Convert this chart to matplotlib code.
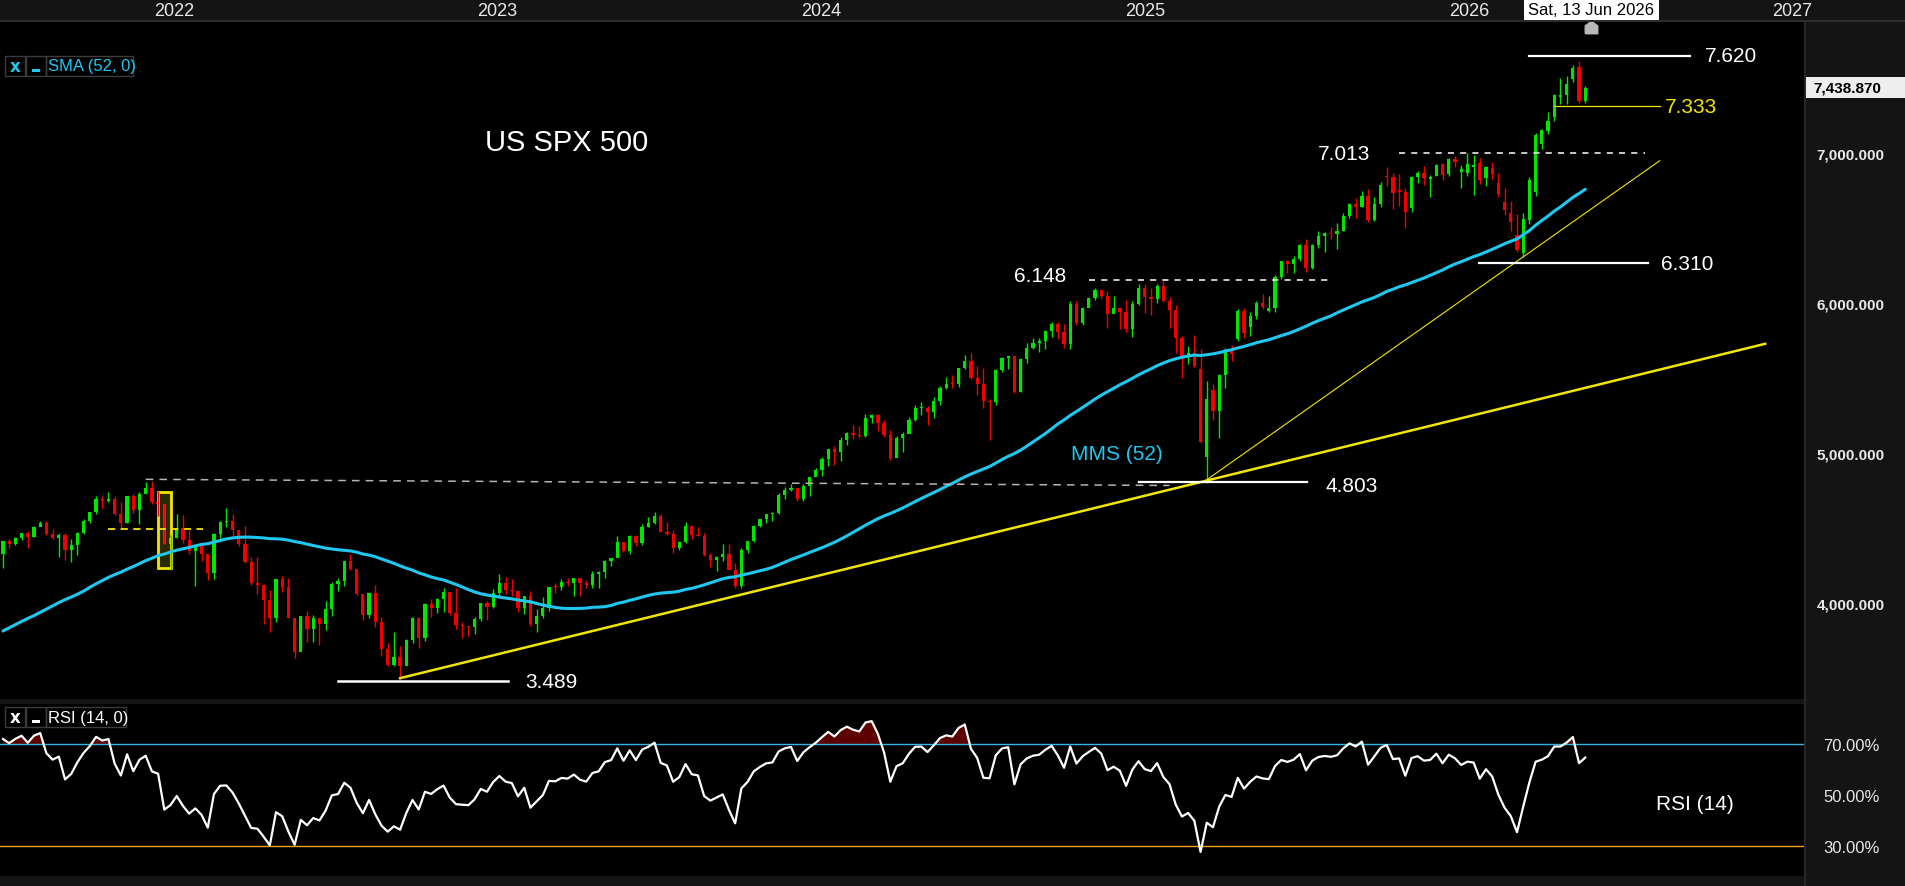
import numpy as np
import pandas as pd
import matplotlib
matplotlib.use("Agg")
import matplotlib.pyplot as plt
from matplotlib.patches import Rectangle
from matplotlib.path import Path
from matplotlib import font_manager

# weekly closes before the first drawn candle (only used to warm up SMA / RSI)
warmup_close = [
    3216, 3271, 3351, 3373, 3397, 3508, 3427, 3341, 3319, 3298, 3348, 3477, 3484,
    3465, 3270, 3509, 3585, 3558, 3638, 3699, 3663, 3709, 3703, 3756, 3825, 3768,
    3841, 3714, 3887, 3934, 3907, 3811, 3842, 3943, 3913, 3975, 4020, 4129, 4185,
    4180, 4181, 4233, 4174, 4156, 4204, 4230, 4247, 4166, 4281, 4352, 4370, 4327,
]

first_week = "2021-07-19"

week_open = [
    # 2021
    4327, 4412, 4395, 4437, 4468, 4442, 4509, 4535, 4459, 4433, 4455, 4357, 4391,
    4471, 4545, 4605, 4698, 4683, 4698, 4595, 4538, 4712, 4620, 4726,
    # 2022
    4766, 4677, 4663, 4398, 4432, 4501, 4419, 4349, 4385, 4329, 4204, 4463, 4543,
    4546, 4488, 4393, 4272, 4132, 4123, 4024, 3901, 4158, 4109, 3901, 3675, 3912,
    3825, 3899, 3863, 3962, 4130, 4145, 4280, 4228, 4058, 3924, 4067, 3873, 3693,
    3586, 3640, 3583, 3752, 3901, 3771, 3993, 3965, 4026, 4072, 3934, 3852, 3845,
    # 2023
    3840, 3895, 3999, 3973, 4071, 4136, 4090, 4079, 3970, 4046, 3862, 3917, 3971,
    4109, 4105, 4138, 4133, 4169, 4136, 4124, 4192, 4205, 4282, 4299, 4410, 4348,
    4450, 4399, 4505, 4536, 4582, 4478, 4464, 4370, 4406, 4516, 4457, 4450, 4320,
    4288, 4308, 4327, 4224, 4117, 4358, 4415, 4514, 4559, 4595, 4604, 4719, 4755,
    # 2024
    4770, 4697, 4784, 4840, 4891, 4959, 5027, 5006, 5089, 5137, 5124, 5117, 5234,
    5254, 5204, 5123, 4967, 5100, 5128, 5223, 5303, 5305, 5278, 5347, 5432, 5465,
    5460, 5567, 5615, 5505, 5459, 5347, 5344, 5554, 5634, 5648, 5408, 5626, 5703,
    5738, 5751, 5815, 5865, 5808, 5729, 5995, 5870, 5969, 6032, 6090, 6051, 5931,
    5971,
    # 2025
    5942, 5827, 5997, 6101, 6041, 6026, 6115, 6013, 5955, 5770, 5639, 5668, 5560,
    4973, 5424, 5283, 5525, 5690, 5760, 5950, 5840, 5912, 6000, 5950, 5968, 6173,
    6279, 6260, 6297, 6389, 6238, 6389, 6450, 6467, 6460, 6482, 6584, 6664, 6643,
    6716, 6553, 6664, 6850, 6845, 6756, 6741, 6636, 6839, 6870, 6832, 6852, 6928,
    # 2026
    6863, 6961, 6877, 6872, 6912, 6937, 6838, 6903, 6803, 6676, 6605, 6458, 6338,
    6557, 6739, 7063, 7152, 7245, 7376, 7386, 7497, 7579, 7352,
]

week_high = [
    4415, 4429, 4440, 4468, 4480, 4513, 4546, 4549, 4492, 4466, 4466, 4429, 4475,
    4559, 4608, 4718, 4714, 4743, 4717, 4672, 4713, 4731, 4741, 4808,
    4818, 4749, 4661, 4453, 4595, 4590, 4490, 4385, 4402, 4327, 4465, 4546, 4637,
    4593, 4471, 4513, 4308, 4307, 4127, 4091, 4158, 4178, 4168, 3838, 3913, 3946,
    3919, 3876, 4013, 4140, 4167, 4281, 4325, 4204, 4062, 4077, 4119, 3908, 3733,
    3806, 3712, 3762, 3905, 3911, 4001, 4028, 4034, 4101, 4067, 4101, 3877, 3846,
    3907, 4003, 4015, 4095, 4195, 4176, 4160, 4051, 4049, 4079, 3964, 4039, 4110,
    4133, 4164, 4170, 4170, 4167, 4154, 4213, 4213, 4290, 4300, 4449, 4404, 4458,
    4456, 4528, 4578, 4607, 4595, 4540, 4490, 4418, 4541, 4512, 4511, 4465, 4338,
    4315, 4398, 4393, 4268, 4366, 4415, 4521, 4561, 4597, 4609, 4738, 4778, 4793,
    4755, 4798, 4842, 4903, 4976, 5030, 5048, 5111, 5141, 5189, 5179, 5262, 5265,
    5264, 5220, 5152, 5114, 5140, 5239, 5325, 5342, 5315, 5375, 5447, 5506, 5524,
    5570, 5655, 5669, 5585, 5567, 5360, 5563, 5643, 5651, 5636, 5636, 5733, 5767,
    5767, 5822, 5878, 5878, 5863, 6012, 6017, 5978, 6045, 6099, 6085, 6080, 6050,
    5966,
    6021, 6014, 6129, 6128, 6101, 6128, 6147, 6043, 5986, 5783, 5715, 5787, 5695,
    5484, 5459, 5528, 5700, 5720, 5959, 5968, 5944, 6016, 6059, 6050, 6188, 6284,
    6290, 6315, 6395, 6427, 6395, 6481, 6477, 6509, 6533, 6600, 6672, 6699, 6750,
    6764, 6709, 6808, 6907, 6870, 6863, 6768, 6852, 6885, 6914, 6857, 6932, 6936,
    6970, 6985, 6923, 7001, 6992, 6970, 6916, 6943, 6870, 6772, 6681, 6595, 6605,
    6843, 7138, 7163, 7277, 7397, 7503, 7519, 7590, 7614, 7448,
]

week_low = [
    4233, 4367, 4385, 4422, 4367, 4444, 4513, 4458, 4427, 4305, 4289, 4278, 4323,
    4460, 4537, 4595, 4630, 4672, 4585, 4495, 4532, 4600, 4531, 4733,
    4662, 4582, 4395, 4222, 4436, 4401, 4327, 4115, 4279, 4157, 4161, 4424, 4506,
    4450, 4381, 4269, 4124, 4062, 3859, 3810, 3875, 4074, 3900, 3637, 3705, 3741,
    3743, 3722, 3818, 3913, 4079, 4115, 4218, 4057, 3887, 3903, 3838, 3647, 3584,
    3584, 3489, 3591, 3735, 3698, 3750, 3906, 3937, 3939, 3918, 3828, 3765, 3783,
    3794, 3878, 3885, 3966, 4037, 4060, 4047, 3944, 3928, 3846, 3809, 3899, 3949,
    4069, 4089, 4114, 4049, 4048, 4099, 4102, 4103, 4166, 4250, 4322, 4341, 4328,
    4384, 4386, 4507, 4528, 4474, 4458, 4335, 4356, 4403, 4431, 4448, 4316, 4238,
    4216, 4284, 4223, 4104, 4104, 4336, 4405, 4511, 4537, 4546, 4598, 4697, 4751,
    4682, 4682, 4714, 4845, 4845, 4918, 4920, 4946, 5056, 5094, 5104, 5111, 5203,
    5146, 5107, 4953, 4990, 5011, 5142, 5218, 5256, 5191, 5234, 5324, 5429, 5433,
    5444, 5565, 5497, 5390, 5303, 5090, 5325, 5540, 5560, 5402, 5406, 5600, 5698,
    5674, 5696, 5774, 5762, 5703, 5696, 5853, 5855, 5972, 6024, 6026, 5832, 5933,
    5829,
    5809, 5773, 5990, 5932, 5923, 6004, 6009, 5837, 5666, 5505, 5597, 5572, 5069,
    4803, 5220, 5101, 5433, 5615, 5750, 5767, 5783, 5893, 5964, 5940, 5944, 6163,
    6201, 6201, 6281, 6212, 6230, 6368, 6343, 6430, 6360, 6481, 6570, 6570, 6640,
    6540, 6550, 6640, 6780, 6630, 6652, 6505, 6607, 6805, 6790, 6712, 6847, 6820,
    6850, 6910, 6772, 6849, 6725, 6798, 6785, 6827, 6710, 6587, 6485, 6345, 6310,
    6530, 6718, 7032, 7132, 7216, 7330, 7330, 7479, 7339, 7335,
]

week_close = [
    4412, 4395, 4437, 4468, 4442, 4509, 4535, 4459, 4433, 4455, 4357, 4391, 4471,
    4545, 4605, 4698, 4683, 4698, 4595, 4538, 4712, 4620, 4726, 4766,
    4677, 4663, 4398, 4432, 4501, 4419, 4349, 4385, 4329, 4204, 4463, 4543, 4546,
    4488, 4393, 4272, 4132, 4123, 4024, 3901, 4158, 4109, 3901, 3675, 3912, 3825,
    3899, 3863, 3962, 4130, 4145, 4280, 4228, 4058, 3924, 4067, 3873, 3693, 3586,
    3640, 3583, 3752, 3901, 3771, 3993, 3965, 4026, 4072, 3934, 3852, 3845, 3840,
    3895, 3999, 3973, 4071, 4136, 4090, 4079, 3970, 4046, 3862, 3917, 3971, 4109,
    4105, 4138, 4133, 4169, 4136, 4124, 4192, 4205, 4282, 4299, 4410, 4348, 4450,
    4399, 4505, 4536, 4582, 4478, 4464, 4370, 4406, 4516, 4457, 4450, 4320, 4288,
    4308, 4327, 4224, 4117, 4358, 4415, 4514, 4559, 4595, 4604, 4719, 4755, 4770,
    4697, 4784, 4840, 4891, 4959, 5027, 5006, 5089, 5137, 5124, 5117, 5234, 5254,
    5204, 5123, 4967, 5100, 5128, 5223, 5303, 5305, 5278, 5347, 5432, 5465, 5460,
    5567, 5615, 5505, 5459, 5347, 5344, 5554, 5634, 5648, 5408, 5626, 5703, 5738,
    5751, 5815, 5865, 5808, 5729, 5995, 5870, 5969, 6032, 6090, 6051, 5931, 5971,
    5942,
    5827, 5997, 6101, 6041, 6026, 6115, 6013, 5955, 5770, 5639, 5668, 5581, 5074,
    5363, 5283, 5525, 5687, 5660, 5950, 5802, 5912, 6000, 5977, 5968, 6173, 6279,
    6260, 6297, 6389, 6238, 6389, 6450, 6467, 6460, 6482, 6584, 6664, 6643, 6716,
    6553, 6664, 6792, 6840, 6736, 6745, 6612, 6841, 6868, 6834, 6843, 6923, 6857,
    6963, 6939, 6895, 6930, 6925, 6823, 6910, 6863, 6730, 6619, 6539, 6358, 6563,
    6823, 7123, 7157, 7217, 7390, 7390, 7463, 7570, 7348, 7438.87,
]

year_labels = [2022, 2023, 2024, 2025, 2026, 2027]
price_ticks = [4000, 5000, 6000, 7000]
rsi_ticks = [30, 50, 70]
last_date_label = "Sat, 13 Jun 2026"

BG = "#000000"
PANEL = "#141414"
UP = "#00e600"
DOWN = "#f00000"
SMA_C = "#1ec8f0"
YEL = "#f2e600"

names = {f.name for f in font_manager.fontManager.ttflist}
NARROW = "Liberation Sans Narrow" if "Liberation Sans Narrow" in names else "Liberation Sans"
SANS = "Liberation Sans"

n = len(week_close)
x = np.arange(n)
o = np.array(week_open, float)
h = np.array(week_high, float)
l = np.array(week_low, float)
c = np.array(week_close, float)

all_close = pd.Series(warmup_close + week_close, dtype=float)
sma = all_close.rolling(52).mean().iloc[-n:].to_numpy()
delta = all_close.diff()
gain = delta.clip(lower=0).ewm(alpha=1 / 14, adjust=False).mean()
loss = (-delta.clip(upper=0)).ewm(alpha=1 / 14, adjust=False).mean()
rsi = (100 - 100 / (1 + gain / loss)).iloc[-n:].to_numpy()

W, H = 1906, 887
fig = plt.figure(figsize=(W / 100, H / 100), dpi=100, facecolor=PANEL)


def frac(x0, y_top, x1, y_bot):
    # pixel box (top-left origin) -> figure fraction rect
    return [x0 / W, 1 - y_bot / H, (x1 - x0) / W, (y_bot - y_top) / H]


ax = fig.add_axes(frac(0, 23, 1804, 700), facecolor=BG)
ax_rsi = fig.add_axes(frac(0, 705, 1804, 877), facecolor=BG, sharex=ax)

# header border and right panel border
fig.add_artist(Rectangle((0, 1 - 23 / H), 1, 2 / H, transform=fig.transFigure,
                         color="#2c2c2c", lw=0))
fig.add_artist(Rectangle((1804 / W, 0), 2 / W, 1 - 23 / H, transform=fig.transFigure,
                         color="#262626", lw=0))

# ---- candles
colors = np.where(c >= o, UP, DOWN)
ax.vlines(x, l, h, colors=colors, lw=1.0)
body_lo = np.minimum(o, c)
body_h = np.maximum(np.abs(c - o), 7)
ax.bar(x, body_h, bottom=body_lo, width=0.52, color=colors, lw=0)

ax.plot(x, sma, color=SMA_C, lw=2.2, solid_capstyle="round")

# ---- drawings
ax.plot([23, 188], [4826, 4785], color="#b4b4b4", lw=1.1, ls=(0, (5, 4)))
ax.plot([17, 32.2], [4494, 4494], color=YEL, lw=1.3, ls=(0, (4, 3)))
ax.add_patch(Rectangle((24.95, 4233), 2.1, 507, fc=YEL, alpha=0.18, lw=0))
ax.add_patch(Rectangle((24.95, 4233), 2.1, 507, fill=False, ec=YEL, lw=2))

ax.plot([64, 284], [3500, 5730], color=YEL, lw=1.8)
ax.plot([193.3, 267], [4803, 6951], color=YEL, lw=0.8)

ax.plot([54, 81.4], [3482, 3482], color="white", lw=1.8)
ax.plot([183, 210.2], [4806, 4806], color="white", lw=1.6)
ax.plot([237.9, 265.1], [6271, 6271], color="white", lw=1.6)
ax.plot([246, 271.9], [7646, 7646], color="white", lw=1.6)
ax.plot([250, 267], [7314, 7314], color=YEL, lw=0.9)
ax.plot([175, 214], [6157, 6157], color="white", lw=1.1, ls=(0, (4, 4)))
ax.plot([225, 264.6], [7001, 7001], color="white", lw=1.1, ls=(0, (4, 4)))

lab = dict(color="white", fontsize=15, family=SANS, ha="center", va="center")
ax.text(88.4, 3478, "3.489", **lab)
ax.text(217.4, 4786, "4.803", **lab)
ax.text(167.1, 6185, "6.148", **lab)
ax.text(216.1, 6996, "7.013", **lab)
ax.text(271.4, 6264, "6.310", **lab)
ax.text(278.5, 7650, "7.620", **lab)
ax.text(272, 7313, "7.333", **{**lab, "color": YEL})
ax.text(90.9, 7076, "US SPX 500", color="white", fontsize=21, family=SANS,
        ha="center", va="center")
ax.text(179.5, 4997, "MMS (52)", color=SMA_C, fontsize=15, family=SANS,
        ha="center", va="center")

# ---- axes
ax.set_xlim(-0.48, 290.25)
ax.set_ylim(3361, 7876)
for a in (ax, ax_rsi):
    for s in a.spines.values():
        s.set_visible(False)
    a.tick_params(axis="x", length=0, labelbottom=False, labeltop=False)
    a.yaxis.tick_right()
    a.tick_params(axis="y", length=0, colors="#e8e8e8")

ax.set_yticks(price_ticks)
ax.set_yticklabels([f"{v:,.3f}" for v in price_ticks], fontsize=11,
                   fontweight="bold", family=SANS)
ax.tick_params(axis="y", pad=9)

# year labels in the header
start = pd.Timestamp(first_week)
for yr in year_labels:
    pos = (pd.Timestamp(f"{yr}-01-01") - start).days / 7 + 0.6
    ax.text(pos, 1 + 11 / 677, str(yr), transform=ax.get_xaxis_transform(),
            color="#e8e8e8", fontsize=13, family=NARROW, ha="left", va="center",
            clip_on=False)

ax.text(n, 1 + 12.5 / 677, last_date_label, transform=ax.get_xaxis_transform(),
        color="black", fontsize=12, family=NARROW, ha="center", va="center",
        clip_on=False, bbox=dict(fc="white", ec="none", boxstyle="square,pad=0.25"))
house = Path([(-1, -1), (1, -1), (1, 0.25), (0, 1), (-1, 0.25), (-1, -1)])
ax.plot([n], [1 - 5 / 677], marker=house, ms=9, color="#b8b8b8", mec="#b8b8b8",
        transform=ax.get_xaxis_transform(), clip_on=False)

# price tag of the last close
ax.add_patch(Rectangle((1.0, c[-1] - 70), 1906 / 1804 - 1.0, 140,
                       transform=ax.get_yaxis_transform(), fc="#eeeeee", lw=0,
                       clip_on=False))
ax.text(1.005, c[-1], f"{c[-1]:,.3f}", transform=ax.get_yaxis_transform(),
        color="black", fontsize=11, fontweight="bold", family=SANS,
        ha="left", va="center", clip_on=False)

# ---- RSI pane
ax_rsi.set_ylim(18.24, 85.69)
ax_rsi.axhline(70, color="#35b5e5", lw=1)
ax_rsi.axhline(30, color="#f0a020", lw=1)
ax_rsi.fill_between(x, rsi, 70, where=rsi > 70, interpolate=True, color="#5c0000", lw=0)
ax_rsi.plot(x, rsi, color="white", lw=1.6)
ax_rsi.set_yticks(rsi_ticks)
ax_rsi.set_yticklabels([f"{v:.2f}%" for v in rsi_ticks], fontsize=12, family=NARROW)
ax_rsi.tick_params(axis="y", pad=14)
ax_rsi.text(272.7, 46.5, "RSI (14)", color="white", fontsize=15, family=SANS,
            ha="center", va="center")


# ---- indicator legends (boxes in pixel coords)
def legend_row(y0, y1, label, col):
    boxes = [(5, 25), (26, 46), (46.5, 46.5 + (87 if label.startswith("SMA") else 80))]
    for bx0, bx1 in boxes:
        fig.add_artist(Rectangle((bx0 / W, 1 - y1 / H), (bx1 - bx0) / W, (y1 - y0) / H,
                                 transform=fig.transFigure, fill=False,
                                 ec="#3c3c3c", lw=1))
    yc = 1 - (y0 + y1) / 2 / H
    fig.text(15 / W, yc, "x", color=col, fontsize=12, fontweight="bold",
             family="DejaVu Sans", ha="center", va="center")
    fig.add_artist(Rectangle((32 / W, 1 - (y1 - 4) / H), 8 / W, 3 / H,
                             transform=fig.transFigure, color=col, lw=0))
    fig.text(48.5 / W, yc, label, color=col, fontsize=12, family=NARROW,
             ha="left", va="center")


legend_row(57, 77, "SMA (52, 0)", SMA_C)
legend_row(708, 728, "RSI (14, 0)", "white")

fig.savefig("out.png", dpi=100, facecolor=fig.get_facecolor())
